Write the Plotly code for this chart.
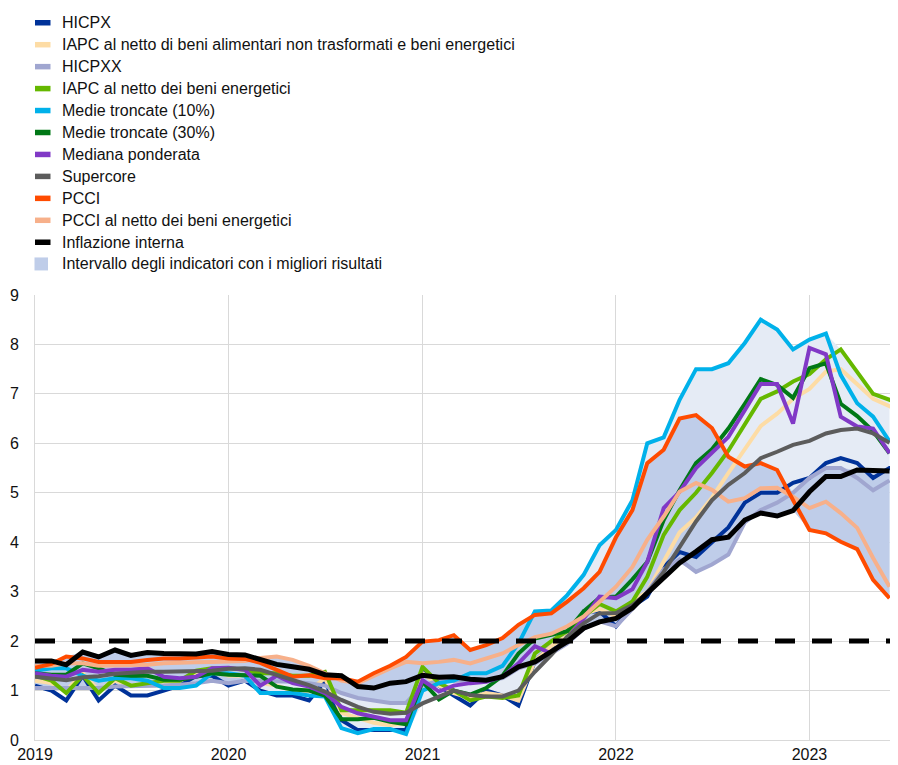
import pandas as pd
import plotly.graph_objects as go

# ---------------- data (year-on-year % changes, monthly) ----------------
months = pd.date_range("2019-01-01", "2023-07-01", freq="MS").strftime("%Y-%m-%d").tolist()

hicpx = [1.1, 1.0, 0.8, 1.3, 0.8, 1.1, 0.9, 0.9, 1.0, 1.1, 1.3, 1.3,
         1.1, 1.2, 1.0, 0.9, 0.9, 0.8, 1.2, 0.4, 0.2, 0.2, 0.2, 0.2,
         1.4, 1.1, 0.9, 0.7, 1.0, 0.9, 0.7, 1.6, 1.9, 2.0, 2.6, 2.6,
         2.3, 2.7, 2.9, 3.5, 3.8, 3.7, 4.0, 4.3, 4.8, 5.0, 5.0, 5.2,
         5.3, 5.6, 5.7, 5.6, 5.3, 5.5, 5.5]
ex_unproc_food_energy = [1.2, 1.15, 1.0, 1.35, 1.0, 1.2, 1.1, 1.1, 1.1, 1.2, 1.35, 1.4,
                         1.3, 1.3, 1.15, 1.1, 1.0, 1.0, 1.25, 0.55, 0.45, 0.35, 0.3, 0.35,
                         1.35, 1.1, 0.95, 0.85, 0.95, 0.9, 0.8, 1.6, 1.9, 2.1, 2.55, 2.65,
                         2.5, 2.8, 3.0, 3.6, 4.2, 4.5, 4.9, 5.4, 5.9, 6.35, 6.6, 6.9,
                         7.1, 7.45, 7.5, 7.2, 6.9, 6.75, 6.6]
hicpxx = [1.05, 1.05, 1.05, 1.05, 1.05, 1.08, 1.08, 1.1, 1.1, 1.12, 1.15, 1.2,
          1.15, 1.2, 1.2, 1.2, 1.18, 1.15, 1.1, 0.95, 0.85, 0.8, 0.75, 0.75,
          1.1, 1.2, 1.2, 1.2, 1.2, 1.25, 1.45, 1.55, 1.75, 1.95, 2.25, 2.4,
          2.3, 2.65, 3.0, 3.45, 3.65, 3.4, 3.55, 3.75, 4.4, 4.65, 4.8, 5.0,
          5.3, 5.5, 5.5, 5.3, 5.05, 5.25]
ex_energy = [1.3, 1.2, 0.95, 1.3, 0.95, 1.25, 1.1, 1.15, 1.2, 1.2, 1.4, 1.45,
             1.45, 1.42, 1.35, 1.35, 1.3, 1.3, 1.38, 0.6, 0.6, 0.62, 0.6, 0.55,
             1.48, 1.15, 1.0, 0.8, 0.88, 0.85, 0.9, 1.75, 2.0, 2.2, 2.5, 2.75,
             2.6, 2.8, 3.3, 4.15, 4.65, 5.0, 5.4, 5.85, 6.4, 6.9, 7.05, 7.25,
             7.4, 7.7, 7.9, 7.45, 7.0, 6.88, 6.75]
trimmed_10 = [1.4, 1.45, 1.45, 1.3, 1.2, 1.25, 1.25, 1.2, 1.05, 1.05, 1.1, 1.35,
              1.35, 1.3, 0.95, 0.95, 0.95, 0.9, 0.88, 0.24, 0.14, 0.22, 0.22, 0.12,
              1.0, 1.15, 1.2, 1.35, 1.35, 1.5, 1.95, 2.6, 2.62, 2.93, 3.34, 3.94,
              4.25, 4.85, 6.0, 6.12, 6.88, 7.5, 7.5, 7.62, 8.03, 8.5, 8.3, 7.9,
              8.1, 8.22, 7.38, 6.81, 6.54, 6.04]
trimmed_30 = [1.35, 1.32, 1.32, 1.55, 1.45, 1.32, 1.3, 1.3, 1.22, 1.22, 1.28, 1.35,
              1.32, 1.32, 1.3, 1.08, 1.02, 1.0, 0.9, 0.42, 0.42, 0.45, 0.37, 0.32,
              1.18, 0.82, 1.0, 0.92, 1.05, 1.3, 1.75, 2.05, 2.12, 2.2, 2.6, 2.88,
              2.9, 3.25, 3.6, 4.45, 5.05, 5.6, 5.88, 6.3, 6.8, 7.3, 7.18, 6.92,
              7.52, 7.62, 6.8, 6.55, 6.25, 5.8]
weighted_median = [1.35, 1.3, 1.28, 1.42, 1.38, 1.42, 1.42, 1.45, 1.28, 1.25, 1.28, 1.45,
                   1.46, 1.42, 1.1, 1.3, 1.15, 1.08, 0.95, 0.67, 0.54, 0.47, 0.4, 0.4,
                   1.21, 0.98, 1.1, 1.15, 1.18, 1.28, 1.55, 1.9, 1.75, 2.06, 2.45, 2.9,
                   2.87, 3.05, 3.6, 4.69, 5.02, 5.5, 5.8, 6.13, 6.67, 7.2, 7.2, 6.4,
                   7.93, 7.8, 6.54, 6.34, 6.3, 5.8]
supercore = [1.28, 1.25, 1.21, 1.27, 1.29, 1.34, 1.36, 1.38, 1.38, 1.38, 1.4, 1.4,
             1.44, 1.45, 1.42, 1.32, 1.21, 1.11, 0.98, 0.81, 0.67, 0.57, 0.53, 0.55,
             0.74, 0.88, 1.0, 0.91, 0.88, 0.88, 1.0, 1.38, 1.72, 2.09, 2.36, 2.56,
             2.57, 2.73, 2.97, 3.4, 3.91, 4.42, 4.85, 5.16, 5.4, 5.7, 5.83, 5.97,
             6.05, 6.2, 6.27, 6.3, 6.2, 6.01]
pcci = [1.46, 1.54, 1.69, 1.65, 1.58, 1.58, 1.58, 1.62, 1.65, 1.65, 1.67, 1.69,
        1.65, 1.64, 1.56, 1.42, 1.28, 1.31, 1.25, 1.25, 1.18, 1.35, 1.5, 1.68,
        1.99, 2.02, 2.12, 1.82, 1.92, 2.06, 2.33, 2.53, 2.56, 2.8, 3.07, 3.4,
        4.1, 4.65, 5.6, 5.87, 6.5, 6.57, 6.31, 5.73, 5.53, 5.6, 5.46, 4.85,
        4.25, 4.18, 4.01, 3.86, 3.24, 2.87]
pcci_ex_energy = [1.5, 1.5, 1.55, 1.55, 1.5, 1.5, 1.5, 1.52, 1.55, 1.55, 1.57, 1.58,
                  1.58, 1.6, 1.66, 1.69, 1.62, 1.5, 1.35, 1.2, 1.15, 1.3, 1.45, 1.58,
                  1.55, 1.58, 1.62, 1.55, 1.65, 1.75, 1.92, 2.08, 2.15, 2.3, 2.5, 2.8,
                  3.1, 3.5, 4.05, 4.52, 5.02, 5.2, 5.06, 4.82, 4.89, 5.09, 5.1, 4.92,
                  4.69, 4.82, 4.59, 4.29, 3.68, 3.1]
domestic = [1.6, 1.6, 1.52, 1.78, 1.68, 1.82, 1.71, 1.77, 1.75, 1.75, 1.74, 1.79,
            1.73, 1.72, 1.62, 1.53, 1.48, 1.43, 1.32, 1.3, 1.08, 1.05, 1.15, 1.18,
            1.31, 1.27, 1.28, 1.23, 1.21, 1.28, 1.48, 1.58, 1.79, 1.99, 2.26, 2.39,
            2.46, 2.67, 2.97, 3.27, 3.58, 3.81, 4.05, 4.1, 4.45, 4.59, 4.53, 4.64,
            5.02, 5.33, 5.33, 5.46, 5.44, 5.44]
target = 2.0

names = ["HICPX",
         "IAPC al netto di beni alimentari non trasformati e beni energetici",
         "HICPXX",
         "IAPC al netto dei beni energetici",
         "Medie troncate (10%)",
         "Medie troncate (30%)",
         "Mediana ponderata",
         "Supercore",
         "PCCI",
         "PCCI al netto dei beni energetici",
         "Inflazione interna"]
band_name = "Intervallo degli indicatori con i migliori risultati"

series = [hicpx, ex_unproc_food_energy, hicpxx, ex_energy, trimmed_10, trimmed_30,
          weighted_median, supercore, pcci, pcci_ex_energy, domestic]
colors = ["#003299", "#fddca5", "#a0a6d0", "#65b800", "#00b1ea", "#007816",
          "#8139c6", "#5c5c5c", "#ff4b00", "#f7b08a", "#000000"]
widths = [4, 4, 4, 4, 4, 4, 4, 4, 4, 4, 5]

# ranges (computed from the series above)
n_band = len(domestic)
all_idx = [1, 2, 3, 4, 5, 6, 7, 8, 9, 10]
best_idx = [2, 8, 9, 10]
all_lo = [min(series[k][i] for k in all_idx) for i in range(n_band)]
all_hi = [max(series[k][i] for k in all_idx) for i in range(n_band)]
best_lo = [min(series[k][i] for k in best_idx) for i in range(n_band)]
best_hi = [max(series[k][i] for k in best_idx) for i in range(n_band)]

light_band = "#e5ebf5"
dark_band = "#bfcde9"

# ---------------- layout geometry (page offset of 8 px compensated) ----------------
W, H = 890, 757
ML, MT, MB, MR = 27, 287, 25, 0
plot_w = W - ML - MR
plot_h = H - MT - MB


def px_x(px):          # page-pixel x -> paper
    return (px - 35) / plot_w


def px_y(py):          # page-pixel y -> paper
    return (740 - py) / plot_h


fig = go.Figure()
xb = months[:n_band]
fig.add_trace(go.Scatter(x=xb, y=all_lo, mode="lines", line=dict(width=0),
                         showlegend=False, hoverinfo="skip"))
fig.add_trace(go.Scatter(x=xb, y=all_hi, mode="lines", line=dict(width=0),
                         fill="tonexty", fillcolor=light_band,
                         showlegend=False, hoverinfo="skip"))
fig.add_trace(go.Scatter(x=xb, y=best_lo, mode="lines", line=dict(width=0),
                         showlegend=False, hoverinfo="skip"))
fig.add_trace(go.Scatter(x=xb, y=best_hi, mode="lines", line=dict(width=0),
                         fill="tonexty", fillcolor=dark_band, name=band_name,
                         showlegend=False, hoverinfo="skip"))

draw_order = [0, 1, 2, 3, 4, 5, 6, 9, 8, 7, 10]
for k in draw_order:
    ys = series[k]
    fig.add_trace(go.Scatter(x=months[:len(ys)], y=ys, mode="lines", name=names[k],
                             line=dict(color=colors[k], width=widths[k]),
                             showlegend=False))

fig.add_shape(type="line", xref="paper", yref="y", x0=0, x1=1, y0=target, y1=target,
              line=dict(color="black", width=5, dash="20px,17px"), layer="above")

# ---------------- legend (drawn as shapes + text annotations) ----------------
font = dict(family="Liberation Sans, Arial, sans-serif", size=16, color="#111111")
leg_labels = names + [band_name]
leg_colors = colors + [dark_band]
for i, (lab, col) in enumerate(zip(leg_labels, leg_colors)):
    yc = 22.5 + 21.95 * i
    if lab == band_name:
        fig.add_shape(type="rect", xref="paper", yref="paper",
                      x0=px_x(34.5), x1=px_x(48), y0=px_y(yc + 6.5), y1=px_y(yc - 6.5),
                      fillcolor=col, line=dict(width=0))
    else:
        fig.add_shape(type="rect", xref="paper", yref="paper",
                      x0=px_x(35), x1=px_x(50.5), y0=px_y(yc + 3), y1=px_y(yc - 2.5),
                      fillcolor=col, line=dict(width=0))
    fig.add_annotation(text=lab, xref="paper", yref="paper", x=px_x(60), y=px_y(yc),
                       xanchor="left", yanchor="middle", showarrow=False, font=font)

fig.update_layout(
    width=W, height=H,
    margin=dict(l=ML, r=MR, t=MT, b=MB),
    paper_bgcolor="white", plot_bgcolor="white",
    font=font,
    showlegend=False,
    xaxis=dict(type="date", range=["2019-01-01", "2023-06-17"], dtick="M12",
               tick0="2019-01-01", tickformat="%Y", showgrid=True,
               gridcolor="#d9d9d9", gridwidth=1, showline=True, linecolor="#d9d9d9",
               zeroline=False, ticks="", tickfont=font),
    yaxis=dict(range=[0, 9], dtick=1, showgrid=True, gridcolor="#d9d9d9",
               gridwidth=1, showline=True, linecolor="#d9d9d9", zeroline=False,
               ticks="", ticklabelstandoff=12, tickfont=font),
)

fig.write_html("out.html")
